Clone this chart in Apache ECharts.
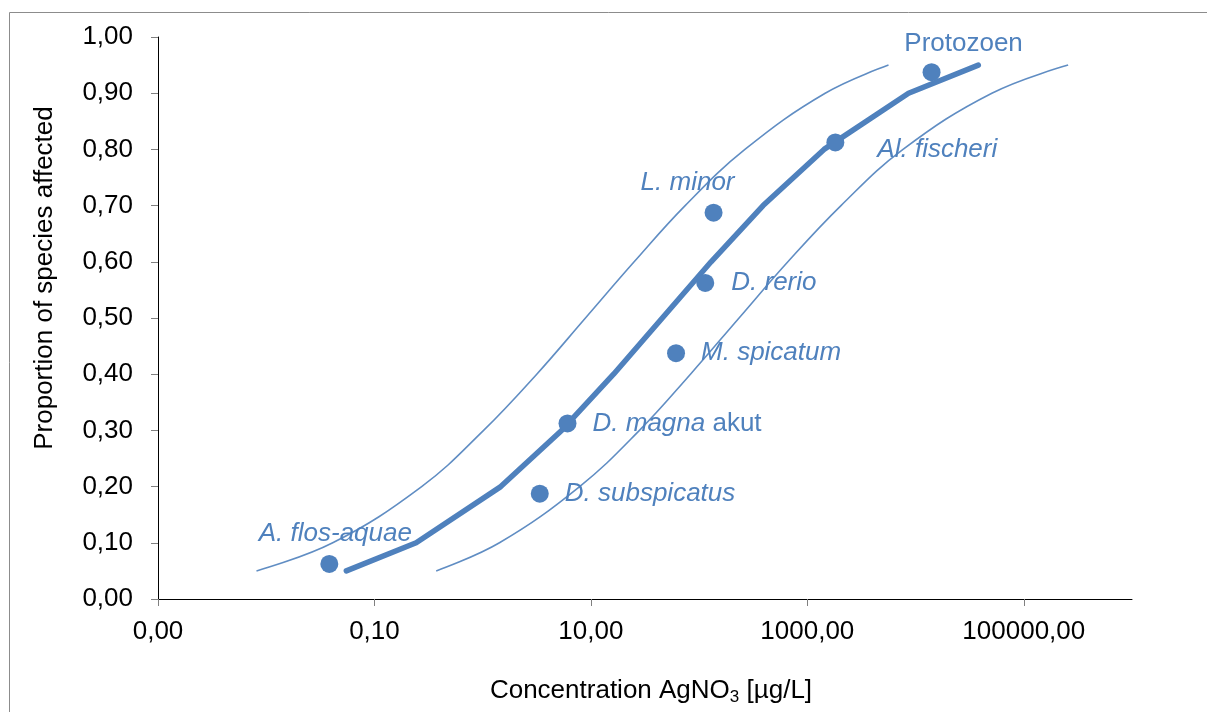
<!DOCTYPE html>
<html>
<head>
<meta charset="utf-8">
<title>Species sensitivity distribution AgNO3</title>
<script src="https://cdn.jsdelivr.net/npm/echarts@6/dist/echarts.min.js"></script>
<style>
  html, body { margin: 0; padding: 0; background: #fff; }
  #chart { width: 1207px; height: 712px; }
</style>
</head>
<body>
<div id="chart"></div>
<script>
// Species toxicity values (µg/L) and their plotting positions
const species = ['A. flos-aquae', 'D. subspicatus', 'D. magna akut', 'M. spicatum', 'D. rerio', 'L. minor', 'Al. fischeri', 'Protozoen'];
const speciesConc = [0.0383, 3.37, 6.08, 61.2, 114, 136, 1815, 14060];
const speciesProp = [0.0625, 0.1875, 0.3125, 0.4375, 0.5625, 0.6875, 0.8125, 0.9375];

// Fitted distribution and its confidence limits
const fitProp = [0.05, 0.10, 0.20, 0.30, 0.40, 0.50, 0.60, 0.70, 0.80, 0.90, 0.95];
const fitConc = [0.055, 0.243, 1.47, 5.36, 16.2, 45.7, 129, 390, 1426, 8610, 38000];
const lowerConc = [0.00813, 0.0412, 0.273, 1.02, 3.16, 8.91, 25.1, 74.3, 265, 1462, 5623];
const upperConc = [0.372, 1.43, 7.87, 28.1, 83.2, 234, 661, 2046, 7656, 50700, 257000];

// Concentration axis ticks
const xTicks = [0.001, 0.1, 10, 1000, 100000];

const BLUE = '#4f81bd';
const FONT = '"Liberation Sans", Arial, sans-serif';

const fmt = v => Number(v).toFixed(2).replace('.', ',');

const pairs = (xs, ys) => xs.map((x, i) => [x, ys[i]]);

// label placement for each species point
const labelCfg = [
  { position: 'top', distance: 8, offset: [6, 0] },
  { position: 'right', distance: 16 },
  { position: 'right', distance: 16, formatter: '{i|D. magna} {n|akut}' },
  { position: 'right', distance: 16 },
  { position: 'right', distance: 17 },
  { position: 'top', distance: 8, offset: [-26, 0] },
  { position: 'right', distance: 33, offset: [0, 7] },
  { position: 'top', distance: 6, offset: [32, 0], fontStyle: 'normal' }
];

const pointData = species.map((name, i) => {
  const label = Object.assign({ show: true }, labelCfg[i]);
  return { name, value: [speciesConc[i], speciesProp[i]], label };
});

const chart = echarts.init(document.getElementById('chart'), null, { renderer: 'canvas' });

chart.setOption({
  animation: false,
  backgroundColor: '#fff',
  textStyle: { fontFamily: FONT },
  grid: { left: 158, right: 75, top: 37, bottom: 113, containLabel: false },
  graphic: [
    {
      type: 'rect',
      shape: { x: 9.5, y: 12.5, width: 1300, height: 800 },
      style: { fill: 'none', stroke: '#8c8c8c', lineWidth: 1 },
      silent: true
    },
    {
      type: 'text',
      x: 45, y: 278,
      rotation: Math.PI / 2,
      style: {
        text: 'Proportion of species affected',
        font: '26px ' + FONT,
        fill: '#000',
        align: 'center',
        verticalAlign: 'middle'
      },
      silent: true
    }
  ],
  xAxis: {
    type: 'log',
    logBase: 10,
    min: 0.001,
    max: 1000000,
    interval: 2,
    name: '{n|Concentration AgNO}{s|3}{n| [µg/L]}',
    nameLocation: 'middle',
    nameGap: 76,
    nameTextStyle: {
      padding: [0, 0, 0, 12],
      rich: {
        n: { fontSize: 26, fontFamily: FONT, color: '#000' },
        s: { fontSize: 17, fontFamily: FONT, color: '#000', padding: [14, 0, 0, 0] }
      }
    },
    axisLine: { show: true, lineStyle: { color: '#000', width: 1 } },
    axisTick: { show: true, length: 7, lineStyle: { color: '#808080' }, customValues: xTicks },
    minorTick: { show: false },
    splitLine: { show: false },
    axisLabel: { fontSize: 26, color: '#000', margin: 20, formatter: fmt, customValues: xTicks }
  },
  yAxis: {
    type: 'value',
    min: 0,
    max: 1,
    interval: 0.1,
    axisLine: { show: true, lineStyle: { color: '#000', width: 1 } },
    axisTick: { show: true, length: 7, lineStyle: { color: '#808080' } },
    splitLine: { show: false },
    axisLabel: { fontSize: 26, color: '#000', margin: 25, formatter: fmt }
  },
  series: [
    {
      name: 'lower limit',
      type: 'line',
      data: pairs(lowerConc, fitProp),
      smooth: 0.4,
      symbol: 'none',
      lineStyle: { color: BLUE, width: 1.6, opacity: 0.9 },
      z: 2
    },
    {
      name: 'upper limit',
      type: 'line',
      data: pairs(upperConc, fitProp),
      smooth: 0.4,
      symbol: 'none',
      lineStyle: { color: BLUE, width: 1.6, opacity: 0.9 },
      z: 2
    },
    {
      name: 'fit',
      type: 'line',
      data: pairs(fitConc, fitProp),
      smooth: false,
      symbol: 'none',
      lineStyle: { color: BLUE, width: 5.5, cap: 'round', join: 'round' },
      z: 3
    },
    {
      name: 'species',
      type: 'scatter',
      data: pointData,
      symbol: 'circle',
      symbolSize: 18,
      itemStyle: { color: BLUE, opacity: 1 },
      label: {
        show: true,
        formatter: '{b}',
        color: BLUE,
        fontSize: 26,
        fontStyle: 'italic',
        fontFamily: FONT,
        rich: {
          i: { fontSize: 26, fontStyle: 'italic', color: BLUE, fontFamily: FONT },
          n: { fontSize: 26, fontStyle: 'normal', color: BLUE, fontFamily: FONT }
        }
      },
      z: 4
    }
  ]
});
</script>
</body>
</html>
